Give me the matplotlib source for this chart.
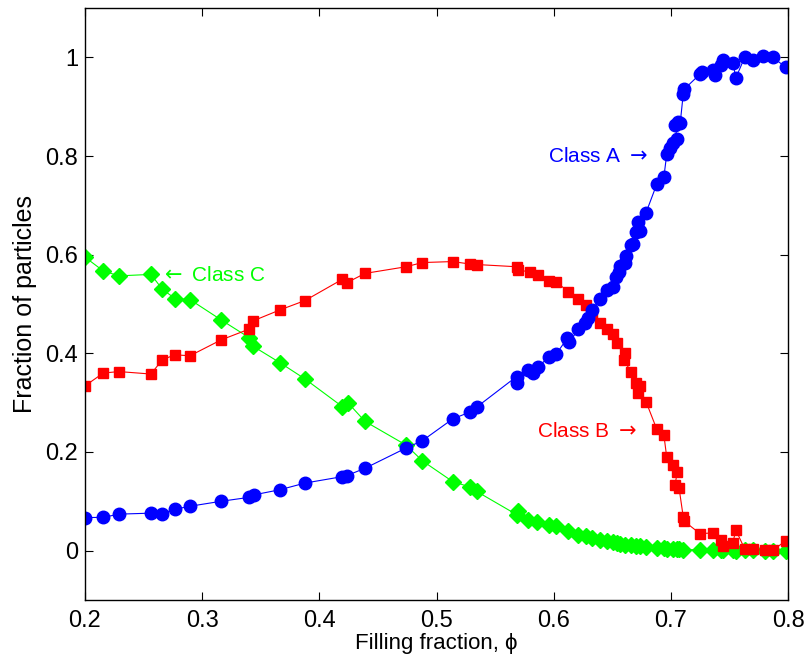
import matplotlib.pyplot as plt

plt.rcParams['font.family'] = ['Liberation Sans', 'DejaVu Sans']

# Class A (blue circles)
phi_a = [0.200, 0.2156, 0.229, 0.2563, 0.266, 0.2768, 0.2896, 0.316, 0.340, 0.344,
         0.3664, 0.3878, 0.4196, 0.4233, 0.439, 0.474, 0.488, 0.5138, 0.5286, 0.5343,
         0.5684, 0.569, 0.578, 0.5826, 0.587, 0.596, 0.602, 0.6116, 0.6133, 0.621,
         0.6267, 0.6296, 0.6324, 0.6395, 0.6452, 0.6509, 0.653, 0.656, 0.657, 0.661,
         0.662, 0.6657, 0.6674, 0.670, 0.6737, 0.672, 0.6788, 0.688, 0.694, 0.6965,
         0.6993, 0.702, 0.7055, 0.7035, 0.706, 0.708, 0.7106, 0.7112, 0.7249, 0.7263,
         0.736, 0.7377, 0.743, 0.7448, 0.7527, 0.7556, 0.763, 0.770, 0.779, 0.787, 0.798]
frac_a = [0.067, 0.0675, 0.074, 0.076, 0.075, 0.084, 0.090, 0.100, 0.108, 0.113,
          0.1235, 0.137, 0.150, 0.152, 0.167, 0.208, 0.223, 0.267, 0.281, 0.291,
          0.353, 0.339, 0.366, 0.360, 0.373, 0.393, 0.398, 0.4305, 0.422, 0.449,
          0.461, 0.472, 0.487, 0.5095, 0.528, 0.535, 0.554, 0.565, 0.577, 0.584,
          0.597, 0.619, 0.621, 0.646, 0.648, 0.667, 0.685, 0.743, 0.7565, 0.804,
          0.817, 0.8265, 0.835, 0.862, 0.869, 0.867, 0.9265, 0.935, 0.966, 0.970,
          0.975, 0.964, 0.984, 0.994, 0.9885, 0.959, 1.000, 0.995, 1.002, 1.000, 0.980]

# Class B (red squares)
phi_b = [0.200, 0.2156, 0.229, 0.2563, 0.266, 0.2768, 0.2896, 0.316, 0.340, 0.3437,
         0.3664, 0.3878, 0.4196, 0.4233, 0.439, 0.474, 0.488, 0.5138, 0.5286, 0.5343,
         0.5684, 0.5698, 0.5794, 0.587, 0.596, 0.602, 0.6125, 0.621, 0.6276, 0.6324,
         0.6395, 0.6452, 0.6509, 0.6538, 0.661, 0.660, 0.6657, 0.670, 0.6737, 0.672,
         0.6788, 0.688, 0.694, 0.6965, 0.702, 0.7055, 0.7035, 0.707, 0.7106, 0.7112,
         0.7249, 0.736, 0.743, 0.7448, 0.7527, 0.7556, 0.763, 0.770, 0.780, 0.787, 0.798]
frac_b = [0.334, 0.360, 0.363, 0.358, 0.387, 0.397, 0.395, 0.427, 0.449, 0.466,
          0.488, 0.507, 0.550, 0.543, 0.562, 0.5755, 0.584, 0.586, 0.581, 0.580,
          0.5755, 0.569, 0.565, 0.559, 0.547, 0.545, 0.525, 0.5095, 0.498, 0.4824,
          0.462, 0.449, 0.439, 0.420, 0.400, 0.387, 0.363, 0.3395, 0.334, 0.320,
          0.302, 0.246, 0.235, 0.189, 0.174, 0.1585, 0.1336, 0.127, 0.068, 0.060,
          0.0344, 0.036, 0.021, 0.0087, 0.0156, 0.041, 0.0035, 0.003, 0.0006, 0.0006, 0.020]

# Class C (green diamonds)
phi_c = [0.200, 0.2156, 0.229, 0.2563, 0.266, 0.2768, 0.2896, 0.316, 0.340, 0.3437,
         0.3664, 0.3878, 0.4196, 0.4247, 0.439, 0.474, 0.488, 0.5138, 0.5286, 0.5343,
         0.5684, 0.5698, 0.578, 0.586, 0.596, 0.602, 0.6125, 0.621, 0.6276, 0.6324,
         0.6395, 0.6452, 0.6509, 0.6538, 0.657, 0.661, 0.6657, 0.670, 0.6737, 0.6788,
         0.688, 0.694, 0.6965, 0.702, 0.7055, 0.707, 0.7106, 0.7249, 0.736, 0.743,
         0.7448, 0.7527, 0.7556, 0.763, 0.770, 0.780, 0.787, 0.798]
frac_c = [0.595, 0.567, 0.557, 0.560, 0.530, 0.511, 0.509, 0.468, 0.432, 0.414,
          0.381, 0.348, 0.292, 0.299, 0.262, 0.214, 0.182, 0.140, 0.129, 0.120,
          0.073, 0.080, 0.063, 0.059, 0.051, 0.049, 0.039, 0.032, 0.029, 0.026,
          0.022, 0.019, 0.017, 0.015, 0.014, 0.012, 0.011, 0.010, 0.009, 0.008,
          0.005, 0.005, 0.004, 0.004, 0.003, 0.003, 0.002, 0.002, 0.001, 0.001,
          0.001, 0.001, 0.000, 0.001, 0.002, 0.000, 0.000, 0.000]

fig = plt.figure(figsize=(8.07, 6.62), dpi=100)
ax = fig.add_axes([0.1053, 0.0937, 0.8712, 0.8942])

ax.plot(phi_c, frac_c, '-D', color=(0, 1, 0), lw=0.8, ms=8.5, mec=(0, 1, 0))
ax.plot(phi_b, frac_b, '-s', color=(1, 0, 0), lw=0.8, ms=7.5, mec=(1, 0, 0))
ax.plot(phi_a, frac_a, '-o', color=(0, 0, 1), lw=0.8, ms=9, mec=(0, 0, 1))

ax.text(0.681, 0.800, r'Class A $\rightarrow$', color=(0, 0, 1), fontsize=15, ha='right', va='center')
ax.text(0.671, 0.241, r'Class B $\rightarrow$', color=(1, 0, 0), fontsize=15, ha='right', va='center')
ax.text(0.264, 0.557, r'$\leftarrow$ Class C', color=(0, 1, 0), fontsize=15, ha='left', va='center')

ax.set_xlim(0.2, 0.8)
ax.set_ylim(-0.1, 1.1)
ax.set_xticks([0.2, 0.3, 0.4, 0.5, 0.6, 0.7, 0.8])
ax.set_xticklabels(['0.2', '0.3', '0.4', '0.5', '0.6', '0.7', '0.8'])
ax.set_yticks([0, 0.2, 0.4, 0.6, 0.8, 1])
ax.set_yticklabels(['0', '0.2', '0.4', '0.6', '0.8', '1'])
ax.tick_params(direction='in', length=6, width=0.8, top=True, right=True, labelsize=17, pad=5)
ax.tick_params(axis='x', pad=7)
for s in ax.spines.values():
    s.set_linewidth(1.0)

ax.set_xlabel('Filling fraction, \u03d5', fontsize=16)
ax.set_ylabel('Fraction of particles', fontsize=18)
ax.xaxis.set_label_coords(0.5, -0.056)
ax.yaxis.set_label_coords(-0.068, 0.5)

fig.savefig('out.png', dpi=100)
